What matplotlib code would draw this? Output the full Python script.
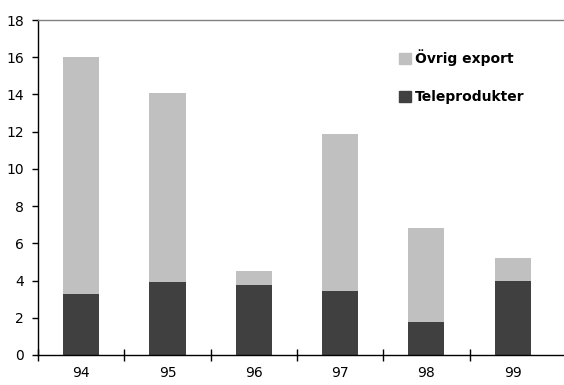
import matplotlib.pyplot as plt
import numpy as np
from matplotlib.patches import Patch

years = ["94", "95", "96", "97", "98", "99"]
tele = [3.3, 3.9, 3.75, 3.45, 1.75, 3.95]
total = [16.0, 14.1, 4.5, 11.9, 6.8, 5.2]
ovrig = [t - d for t, d in zip(total, tele)]

plt.rcParams['font.family'] = ['Liberation Sans Narrow', 'DejaVu Sans Condensed', 'DejaVu Sans']

fig = plt.figure(figsize=(5.64, 3.85), dpi=100)
ax = fig.add_axes([0.0674, 0.078, 0.9326, 0.870])

dark = '#404040'
light = '#c0c0c0'
x = np.arange(len(years))
ax.bar(x, tele, width=0.42, color=dark)
ax.bar(x, ovrig, width=0.42, bottom=tele, color=light)

ax.set_xlim(-0.5, 5.595)
ax.set_ylim(0, 18)
ax.set_yticks(range(0, 19, 2))

ax.set_xticks(np.arange(len(years)) - 0.5)
ax.set_xticklabels([])
ax.set_xticks(x, minor=True)
ax.set_xticklabels(years, minor=True)
ax.tick_params(axis='x', which='major', direction='inout', length=8, width=1)
ax.tick_params(axis='x', which='minor', length=0, pad=8, labelsize=10)
ax.tick_params(axis='y', direction='out', length=4, width=1, labelsize=10, pad=6)

ax.spines['right'].set_visible(False)
for s in ['left', 'bottom', 'top']:
    ax.spines[s].set_linewidth(1)
ax.spines['top'].set_color('#808080')

handles = [Patch(color=light, label='Övrig export'), Patch(color=dark, label='Teleprodukter')]
leg = ax.legend(handles=handles, loc='upper left', bbox_to_anchor=(0.663, 0.95),
                frameon=False, handlelength=0.85, handleheight=0.85, handletextpad=0.3,
                labelspacing=1.75, prop={'weight': 'bold', 'size': 10})

fig.savefig('out.png', dpi=100)
